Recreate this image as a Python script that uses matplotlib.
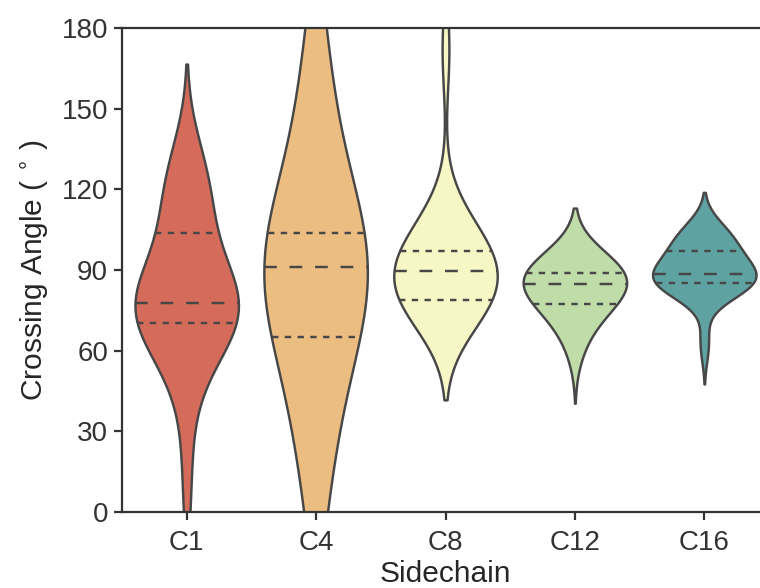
import numpy as np
import pandas as pd
import seaborn as sns
import matplotlib.pyplot as plt

# crossing angles (degrees) per sidechain length
sidechains = ["C1", "C4", "C8", "C12", "C16"]

c1 = [3, 22, 40, 50, 56, 60.5, 63.5, 66, 68, 69.5,
      70.5, 71.5, 72.5, 73.5, 74.5, 75.3, 76, 76.7, 77.2, 77.6,
      77.9, 79, 80.5, 82, 83.5, 85, 87, 89.5, 93, 103,
      106, 109, 112, 115, 118, 121, 124, 127, 130, 133]
c4 = [0, 8, 16, 24, 32, 40, 47, 54, 60, 63.8,
      65.5, 69, 72.5, 76, 79, 82, 85, 87.5, 89.5, 90.7,
      91.5, 92.8, 94, 95.3, 96.6, 98, 99.3, 100.6, 102, 103.2,
      106, 113, 121, 129, 137, 145, 153, 161, 170, 179]
c8 = [70.5, 71.5, 73, 74.3, 75.5, 76.4, 77, 77.6, 78.1, 78.4,
      79, 80, 81.5, 82.5, 83.5, 84.5, 85.5, 86.5, 87.5, 89,
      90, 91, 92, 93, 94, 95, 95.5, 96, 96.5, 97,
      98, 99.5, 101, 103, 105, 107.5, 110, 114, 168, 176]
c12 = [58, 62, 65.5, 68.5, 71, 73, 74.3, 75.3, 76.2, 76.8,
       77.5, 78.5, 79.5, 80.5, 81.5, 82.3, 83, 83.6, 84.1, 84.6,
       85, 85.4, 85.9, 86.3, 86.8, 87.2, 87.7, 88.1, 88.5, 88.9,
       89.5, 90.3, 91, 91.8, 92.5, 93.2, 93.9, 94.5, 95, 95.5]
c16 = [60, 65.5, 79, 80.5, 81.5, 82.5, 83.2, 83.8, 84.3, 84.7,
       85.1, 85.5, 85.8, 86.2, 86.6, 87, 87.4, 87.8, 88.1, 88.4,
       88.7, 89.6, 90.5, 91.4, 92.3, 93.2, 94.1, 95, 96, 97,
       98, 99, 100, 101, 102, 103, 104, 105, 105.8, 106.5]

angles = [c1, c4, c8, c12, c16]
# kernel bandwidth multiplier for each group
bw_adjust = [1.25, 1.5, 1.4, 2.0, 1.3]

df = pd.DataFrame({
    "Sidechain": np.repeat(sidechains, [len(a) for a in angles]),
    "angle": np.concatenate(angles),
})

sns.set_style("ticks")
plt.rcParams["font.family"] = ["Liberation Sans", "DejaVu Sans"]
plt.rcParams["axes.linewidth"] = 1.6
plt.rcParams["xtick.major.width"] = 1.6
plt.rcParams["ytick.major.width"] = 1.6
plt.rcParams["xtick.major.size"] = 6
plt.rcParams["ytick.major.size"] = 6

fig = plt.figure(figsize=(7.6, 5.88), dpi=100)
ax = fig.add_axes([122 / 760, 76 / 588, 647 / 760, 484 / 588])

lw = 1.75
for name, bw in zip(sidechains, bw_adjust):
    sub = df[df["Sidechain"] == name]
    sns.violinplot(data=sub, x="Sidechain", y="angle", hue="Sidechain",
                   order=sidechains, hue_order=sidechains, palette="Spectral",
                   legend=False, density_norm="width", inner="quart",
                   bw_adjust=bw, linewidth=lw, linecolor="#474747", ax=ax)

# quartile lines: dotted for 25/75, longer dashes for the median
for i, line in enumerate(ax.lines):
    line.set_linewidth(lw)
    line.set_color("#474747")
    if i % 3 == 1:
        line.set_dashes([3 * lw, 3 * lw])
    else:
        line.set_dashes([1.5 * lw, 1.5 * lw])

ax.set_xlim(-0.5, 4.5)
ax.set_ylim(0, 180)
ax.set_yticks(np.arange(0, 181, 30))
ax.set_ylabel(r"Crossing Angle ( $^{\circ}$ )", fontsize=21.5, labelpad=8)
ax.set_xlabel("Sidechain", fontsize=21.5, labelpad=3)
ax.tick_params(axis="both", labelsize=20, colors="#333333")
ax.tick_params(axis="x", pad=7)
ax.tick_params(axis="y", pad=4)
for s in ax.spines.values():
    s.set_color("#333333")

fig.savefig("out.png", dpi=100)
